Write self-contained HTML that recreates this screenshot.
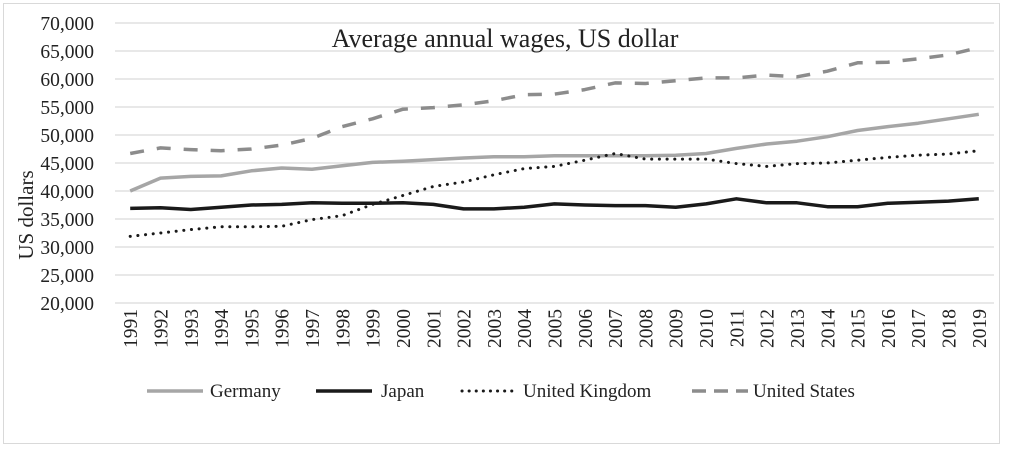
<!DOCTYPE html>
<html><head><meta charset="utf-8"><style>
body{margin:0;background:#fff;}
svg text{font-family:"Liberation Serif",serif;fill:#222;}
</style></head><body>
<svg width="1009" height="448">
<rect x="3.5" y="3.5" width="996" height="440" fill="#fff" stroke="#d9d9d9"/>
<g id="grid"></g><g id="yt"></g><g id="xt"></g><g id="lines"></g>
<text x="505" y="47" font-size="26" text-anchor="middle">Average annual wages, US dollar</text>
<text transform="translate(33,215) rotate(-90)" font-size="21" text-anchor="middle">US dollars</text>
<g>
<line x1="147" y1="391" x2="203" y2="391" stroke="#a6a6a6" stroke-width="3.5"/>
<text x="210" y="397" font-size="19">Germany</text>
<line x1="316" y1="391" x2="372" y2="391" stroke="#1a1a1a" stroke-width="3.5"/>
<text x="381" y="397" font-size="19">Japan</text>
<line x1="462" y1="391" x2="516" y2="391" stroke="#1a1a1a" stroke-width="3" stroke-dasharray="0.1 7" stroke-linecap="round"/>
<text x="523" y="397" font-size="19">United Kingdom</text>
<line x1="692" y1="391" x2="748" y2="391" stroke="#8c8c8c" stroke-width="3.5" stroke-dasharray="14 8"/>
<text x="753" y="397" font-size="19">United States</text>
</g>
</svg>
<script>
const years=[];for(let y=1991;y<=2019;y++)years.push(String(y));
const yTicks=[20000,25000,30000,35000,40000,45000,50000,55000,60000,65000,70000];
const germany=[40000,42300,42600,42700,43600,44100,43900,44500,45100,45300,45600,45900,46100,46100,46300,46300,46300,46300,46400,46700,47600,48400,48900,49700,50800,51500,52100,52900,53700];
const japan=[36900,37000,36700,37100,37500,37600,37900,37800,37800,37900,37600,36800,36800,37100,37700,37500,37400,37400,37100,37700,38600,37900,37900,37200,37200,37800,38000,38200,38600];
const uk=[31900,32500,33100,33600,33600,33700,34900,35600,37600,39200,40800,41600,42900,44000,44400,45500,46700,45700,45700,45700,44900,44400,44900,45000,45500,46000,46400,46600,47200];
const us=[46700,47700,47400,47200,47500,48200,49400,51500,52900,54600,54900,55400,56100,57200,57300,58100,59300,59200,59700,60200,60200,60700,60400,61400,62900,63000,63600,64300,65600];
const NS='http://www.w3.org/2000/svg';
const x0=115,x1=994,yTop=23,yBot=303,vMin=20000,vMax=70000;
const bw=(x1-x0)/years.length;
const X=i=>x0+bw*(i+0.5);
const Y=v=>yBot-(v-vMin)/(vMax-vMin)*(yBot-yTop);
function mk(t,a,p){const e=document.createElementNS(NS,t);for(const k in a)e.setAttribute(k,a[k]);p.appendChild(e);return e;}
const g=document.getElementById('grid'),yt=document.getElementById('yt'),xt=document.getElementById('xt'),ln=document.getElementById('lines');
yTicks.forEach(v=>{
 const l=mk('line',{x1:x0,x2:x1,y1:Y(v),y2:Y(v),stroke:'#d9d9d9','stroke-width':1.3},g);
 
 
 const t=mk('text',{x:x0-21,y:Y(v)+7,'font-size':19.5,'text-anchor':'end'},yt);
 t.textContent=v.toLocaleString('en-US');
 
 
});
years.forEach((yr,i)=>{
 const t=mk('text',{transform:`translate(${X(i)+7},${yBot+6}) rotate(-90)`,'font-size':19.5,'text-anchor':'end'},xt);
 t.textContent=yr;
 
 
});
function series(d,st,name){
 const pts=d.map((v,i)=>X(i).toFixed(1)+','+Y(v).toFixed(1)).join(' ');
 const p=mk('polyline',Object.assign({points:pts,fill:'none','stroke-linejoin':'round'},st),ln);
 
 
}
series(germany,{stroke:'#a6a6a6','stroke-width':3.5},'germany-line');
series(japan,{stroke:'#1a1a1a','stroke-width':3.5},'japan-line');
series(uk,{stroke:'#1a1a1a','stroke-width':3,'stroke-dasharray':'0.1 7.6','stroke-linecap':'round'},'uk-line');
series(us,{stroke:'#8c8c8c','stroke-width':3.5,'stroke-dasharray':'14 13'},'us-line');
</script>
</body></html>
